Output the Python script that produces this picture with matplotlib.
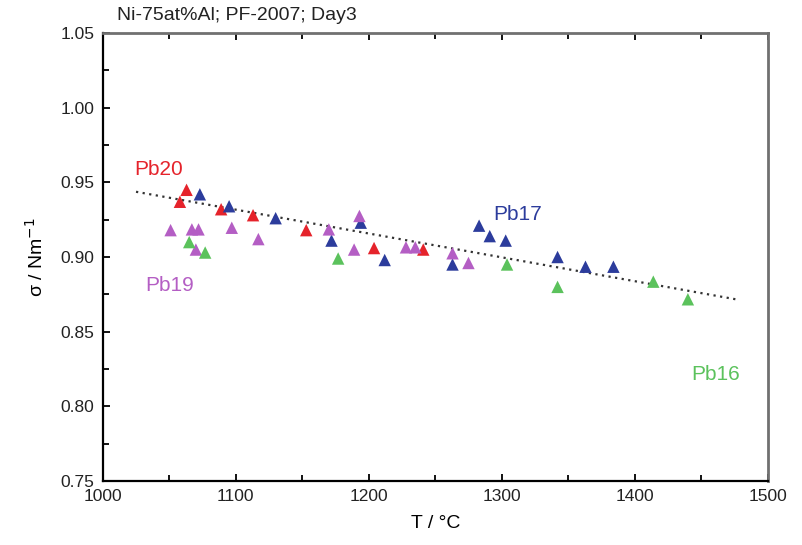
import matplotlib
matplotlib.use("Agg")
import matplotlib.pyplot as plt
from matplotlib.ticker import MultipleLocator, FormatStrFormatter

plt.rcParams['font.family'] = ['Liberation Sans', 'DejaVu Sans']

# Data
pb20_T = [1063, 1058, 1089, 1113, 1153, 1204, 1241]
pb20_s = [0.945, 0.937, 0.932, 0.928, 0.918, 0.906, 0.905]

pb17_T = [1073, 1095, 1130, 1172, 1194, 1212, 1263, 1283, 1291, 1303, 1342, 1363, 1384]
pb17_s = [0.942, 0.934, 0.926, 0.911, 0.923, 0.898, 0.895, 0.921, 0.914, 0.911, 0.900, 0.8935, 0.8935]

pb19_T = [1051, 1067, 1072, 1097, 1117, 1070, 1170, 1193, 1189, 1228, 1235, 1263, 1275]
pb19_s = [0.918, 0.9185, 0.9185, 0.9196, 0.912, 0.905, 0.9185, 0.9275, 0.905, 0.9065, 0.9065, 0.9025, 0.896]

pb16_T = [1065, 1077, 1177, 1304, 1342, 1414, 1440]
pb16_s = [0.910, 0.903, 0.899, 0.895, 0.880, 0.8835, 0.8717]

fit_T = [1025, 1476]
fit_s = [0.9437, 0.8717]

labels = ["Pb20", "Pb17", "Pb19", "Pb16"]
label_T = [1042, 1312, 1050, 1461]
label_s = [0.9583, 0.9288, 0.8812, 0.821]

colors = ['#e5232b', '#2c3c9c', '#b45ec4', '#5bc25c']

fig = plt.figure(figsize=(8.03, 5.45), dpi=100)
ax = fig.add_axes([0.128, 0.1174, 0.828, 0.822])

ax.plot(fit_T, fit_s, color='#333333', linestyle=(0, (1, 2)), linewidth=1.6, zorder=1)

series = [(pb20_T, pb20_s), (pb17_T, pb17_s), (pb19_T, pb19_s), (pb16_T, pb16_s)]
for (T, s), c in zip(series, colors):
    ax.scatter(T, s, marker='^', s=80, color=c, edgecolors='none', zorder=3)

for lab, x, y, c in zip(labels, label_T, label_s, colors):
    ax.text(x, y, lab, color=c, fontsize=15, ha='center', va='center')

ax.set_xlim(1000, 1500)
ax.set_ylim(0.75, 1.05)
ax.xaxis.set_major_locator(MultipleLocator(100))
ax.xaxis.set_minor_locator(MultipleLocator(50))
ax.yaxis.set_major_locator(MultipleLocator(0.05))
ax.yaxis.set_minor_locator(MultipleLocator(0.025))
ax.yaxis.set_major_formatter(FormatStrFormatter('%.2f'))

ax.tick_params(which='both', direction='in', top=True, right=False, labelsize=12.5, pad=6,
               labelcolor='#222222')
ax.tick_params(which='major', length=5, width=1.3)
ax.tick_params(which='minor', length=4, width=1.3)

for sp in ['left', 'bottom']:
    ax.spines[sp].set_linewidth(1.6)
    ax.spines[sp].set_color('black')
for sp in ['top', 'right']:
    ax.spines[sp].set_linewidth(2)
    ax.spines[sp].set_color('#707070')

ax.set_xlabel('T / °C', fontsize=14, labelpad=8)
ax.set_ylabel('σ / Nm$^{-1}$', fontsize=14, labelpad=10)

fig.text(0.146, 0.972, 'Ni-75at%Al; PF-2007; Day3', fontsize=14, ha='left', va='center', color='#222222')

fig.savefig('out.png', dpi=100)
